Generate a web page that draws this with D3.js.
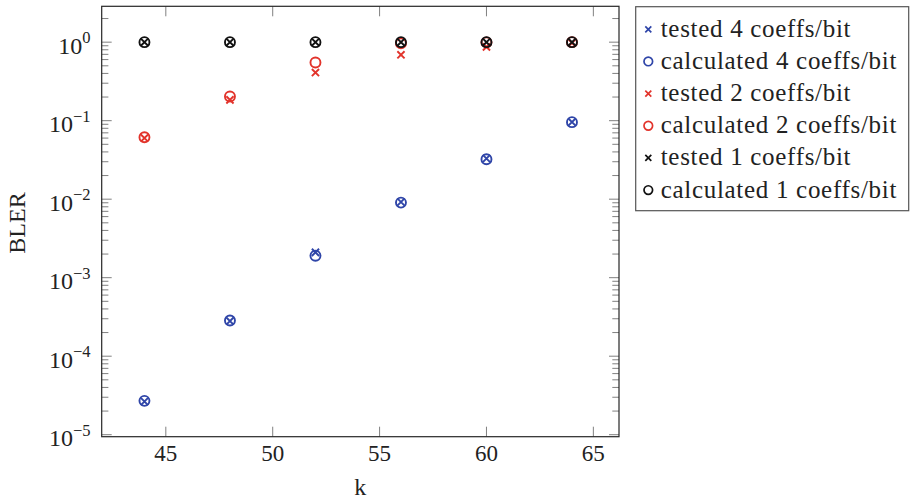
<!DOCTYPE html>
<html>
<head>
<meta charset="utf-8">
<script src="https://cdn.jsdelivr.net/npm/d3@7/dist/d3.min.js"></script>
<style>
  html, body { margin: 0; padding: 0; background: #fff; }
  svg { display: block; }
  text { font-family: "Liberation Serif", "Times New Roman", serif; fill: #222; }
</style>
</head>
<body>
<svg id="chart" width="910" height="500"></svg>
<script>
// ---- data ----
const kValues = [44, 48, 52, 56, 60, 64];
const tested4 = [2.65e-5, 2.8e-4, 2.1e-3, 9.2e-3, 0.033, 0.096];
const calc4   = [2.7e-5, 2.85e-4, 1.9e-3, 9.05e-3, 0.0323, 0.0957];
const tested2 = [0.06, 0.184, 0.41, 0.69, 0.87, 0.98];
const calc2   = [0.0616, 0.203, 0.55, 0.97, 0.995, 1.0];
const tested1 = [1, 1, 1, 1, 1, 1];
const calc1   = [1, 1, 1, 1, 1, 1];
const xTicks = [45, 50, 55, 60, 65];
const yTickExponents = [0, -1, -2, -3, -4, -5];
const seriesNames = ["tested 4 coeffs/bit", "calculated 4 coeffs/bit",
                     "tested 2 coeffs/bit", "calculated 2 coeffs/bit",
                     "tested 1 coeffs/bit", "calculated 1 coeffs/bit"];
const seriesValues = [tested4, calc4, tested2, calc2, tested1, calc1];
const seriesMarks = ["x", "o", "x", "o", "x", "o"];
const seriesColors = ["#2f45a8", "#2f45a8", "#e2332b", "#e2332b", "#111111", "#111111"];

// ---- layout ----
const svg = d3.select("#chart");
const L = 101.7, R = 619, T = 6.3, B = 436.7;
const x = d3.scaleLinear().domain([42, 66.2]).range([L, R]);
const y = d3.scaleLog().domain([Math.pow(10, -5.0255), Math.pow(10, 0.4569)]).range([B, T]);

const tickColor = "#808080";
const g = svg.append("g");

// minor y ticks
const minor = [];
for (let e = -6; e <= 1; e++) for (let m = 2; m <= 9; m++) {
  const v = m * Math.pow(10, e);
  if (y(v) >= T && y(v) <= B) minor.push(v);
}
const majors = yTickExponents.map(e => Math.pow(10, e));

g.selectAll(".ymin").data(minor).enter().append("path")
  .attr("d", d => `M${L},${y(d)}h6.7M${R},${y(d)}h-6.7`)
  .attr("stroke", tickColor).attr("stroke-width", 1);
g.selectAll(".ymaj").data(majors).enter().append("path")
  .attr("d", d => `M${L},${y(d)}h10M${R},${y(d)}h-10`)
  .attr("stroke", tickColor).attr("stroke-width", 1);
g.selectAll(".xmaj").data(xTicks).enter().append("path")
  .attr("d", d => `M${x(d)},${B}v-10M${x(d)},${T}v10`)
  .attr("stroke", tickColor).attr("stroke-width", 1);

// frame
g.append("rect").attr("x", L).attr("y", T).attr("width", R - L).attr("height", B - T)
  .attr("fill", "none").attr("stroke", "#262626").attr("stroke-width", 1.2);

// x tick labels
g.selectAll(".xl").data(xTicks).enter().append("text")
  .attr("x", d => x(d)).attr("y", B + 24.5)
  .attr("text-anchor", "middle").attr("font-size", 23).text(d => d);

// y tick labels
yTickExponents.forEach(e => {
  const t = g.append("text").attr("x", 90.5).attr("y", y(Math.pow(10, e)) + 11.5)
    .attr("text-anchor", "end").attr("font-size", 24);
  t.append("tspan").text("10");
  t.append("tspan").attr("dy", -10.5).attr("font-size", 16.5)
    .text(e === 0 ? "0" : "\u2212" + Math.abs(e));
});

// axis labels
g.append("text").attr("x", (L + R) / 2).attr("y", 495).attr("text-anchor", "middle")
  .attr("font-size", 24).text("k");
g.append("text").attr("transform", `translate(25,223) rotate(-90)`)
  .attr("text-anchor", "middle").attr("font-size", 24).text("BLER");

// markers
function drawMark(sel, type, color, s, r, sw) {
  if (type === "x") {
    sel.append("path").attr("d", `M${-s},${-s}L${s},${s}M${-s},${s}L${s},${-s}`)
      .attr("stroke", color).attr("stroke-width", sw).attr("fill", "none");
  } else {
    sel.append("circle").attr("r", r).attr("fill", "none")
      .attr("stroke", color).attr("stroke-width", sw);
  }
}
const plot = svg.append("g");
seriesValues.forEach((vals, i) => {
  const pts = plot.selectAll(null).data(kValues.map((k, j) => [k, vals[j]])).enter()
    .append("g").attr("transform", d => `translate(${x(d[0])},${y(d[1])})`);
  pts.each(function () { drawMark(d3.select(this), seriesMarks[i], seriesColors[i], 3.6, 5, 1.9); });
});

// legend
const lg = svg.append("g");
lg.append("rect").attr("x", 635.7).attr("y", 6.7).attr("width", 273).attr("height", 204)
  .attr("fill", "#fff").attr("stroke", "#555").attr("stroke-width", 1.2);
seriesNames.forEach((name, i) => {
  const cy = 29.3 + i * 32.15;
  const m = lg.append("g").attr("transform", `translate(648.3,${cy})`);
  drawMark(m, seriesMarks[i], seriesColors[i], 3, 4.3, 1.7);
  lg.append("text").attr("x", 660.7).attr("y", cy + 7.5).attr("font-size", 25)
    .attr("letter-spacing", 0.7).text(name);
});
</script>
</body>
</html>
